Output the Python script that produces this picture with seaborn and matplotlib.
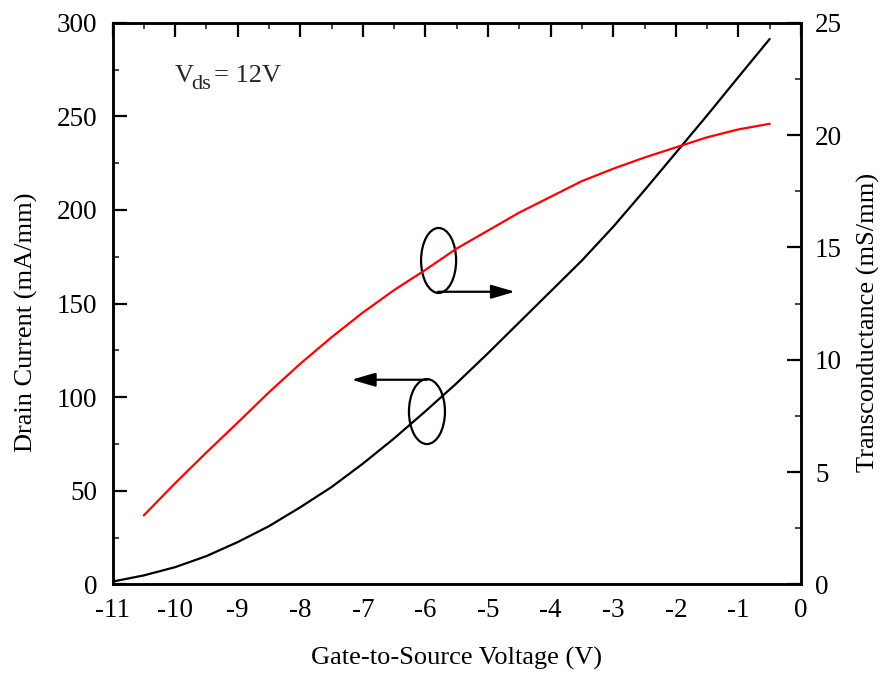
import matplotlib
matplotlib.use("Agg")
import matplotlib.pyplot as plt
import seaborn as sns
import numpy as np
import pandas as pd
from matplotlib.patches import Ellipse
from matplotlib.ticker import MultipleLocator, FixedLocator

# ---- data ----
vgs_id = [-11, -10.5, -10, -9.5, -9, -8.5, -8, -7.5, -7, -6.5, -6, -5.5, -5,
          -4.5, -4, -3.5, -3, -2.5, -2, -1.5, -1, -0.5]
drain_current = [1.5, 4.8, 9.2, 15.1, 22.6, 31.1, 41.2, 52.0, 64.5, 78.0, 92.5,
                 107.5, 123.5, 140.0, 156.5, 173.0, 191.0, 210.5, 230.5, 250.5,
                 271.0, 291.3]

vgs_gm = [-10.5, -10, -9.5, -9, -8.5, -8, -7.5, -7, -6.5, -6, -5.5, -5, -4.5,
          -4, -3.5, -3, -2.5, -2, -1.5, -1, -0.5]
transconductance = [3.07, 4.5, 5.87, 7.2, 8.55, 9.82, 11.0, 12.1, 13.1, 14.0,
                    14.95, 15.75, 16.55, 17.25, 17.95, 18.5, 19.0, 19.45, 19.9,
                    20.25, 20.5]

x_ticks = [-11, -10, -9, -8, -7, -6, -5, -4, -3, -2, -1, 0]
x_labels = ["-11", "-10", "-9", "-8", "-7", "-6", "-5", "-4", "-3", "-2", "-1", "0"]
left_ticks = [0, 50, 100, 150, 200, 250, 300]
right_ticks = [0, 5, 10, 15, 20, 25]

df_id = pd.DataFrame({"Vgs": vgs_id, "Id": drain_current})
df_gm = pd.DataFrame({"Vgs": vgs_gm, "gm": transconductance})

sns.set_theme(style="white")
plt.rcParams["font.family"] = ["Liberation Serif", "DejaVu Serif"]
plt.rcParams["axes.unicode_minus"] = False

FS = 19
TFS = 19.5
fig = plt.figure(figsize=(8.82, 6.75), dpi=100)
ax = fig.add_axes([112.5 / 882, 1 - 584.4 / 675, (801 - 112.5) / 882, (584.4 - 22.7) / 675])
ax2 = ax.twinx()

sns.lineplot(data=df_id, x="Vgs", y="Id", ax=ax, color="black", linewidth=1.6)
sns.lineplot(data=df_gm, x="Vgs", y="gm", ax=ax2, color="#ff0000", linewidth=1.6)

ax.set_xlim(-11, 0)
ax.set_ylim(0, 300)
ax2.set_ylim(0, 25)

ax.xaxis.set_major_locator(FixedLocator(x_ticks))
ax.set_xticklabels(x_labels)
ax.xaxis.set_minor_locator(MultipleLocator(0.5))
ax.yaxis.set_major_locator(FixedLocator(left_ticks))
ax.yaxis.set_minor_locator(MultipleLocator(25))
ax2.yaxis.set_major_locator(FixedLocator(right_ticks))
ax2.yaxis.set_minor_locator(MultipleLocator(2.5))

for a in (ax, ax2):
    for s in a.spines.values():
        s.set_linewidth(1.8)
        s.set_color("black")

ax.tick_params(axis="both", which="major", direction="in", length=10, width=1.6,
               labelsize=TFS, colors="black", top=True, right=False)
ax.tick_params(axis="both", which="minor", direction="in", length=4, width=1.2,
               top=True, right=False)
ax.tick_params(axis="x", which="major", pad=10)
ax.tick_params(axis="y", which="major", pad=11)
ax2.tick_params(axis="y", which="major", direction="in", length=10, width=1.6,
                labelsize=TFS, colors="black", pad=10)
ax2.tick_params(axis="y", which="minor", direction="in", length=4, width=1.2)

ax.set_xlabel("Gate-to-Source Voltage (V)", fontsize=FS, color="black", labelpad=17)
ax.set_ylabel("Drain Current (mA/mm)", fontsize=FS, color="black", labelpad=13.5)
ax2.set_ylabel("Transconductance (mS/mm)", fontsize=FS, color="black", labelpad=11)
ax.yaxis.label.set_y(0.466)
ax2.yaxis.label.set_y(0.466)

# annotation text (V_ds = 12V)
fig.text(175 / 882, 1 - 82 / 675, "V", fontsize=FS, va="baseline", ha="left")
fig.text(191 / 882, 1 - 89 / 675, "ds", fontsize=FS * 0.85, va="baseline", ha="left")
fig.text(214 / 882, 1 - 82 / 675, "= 12V", fontsize=FS, va="baseline", ha="left")

# ellipses and arrows
ax.add_patch(Ellipse((-5.79, 173.0), 0.56, 34.7, fill=False, edgecolor="black", linewidth=1.6))
ax.annotate("", xy=(-4.57, 156.3), xytext=(-5.8, 156.3),
            arrowprops=dict(arrowstyle="-|>,head_length=1.2,head_width=0.35",
                            color="black", lw=1.6, shrinkA=0, shrinkB=0))
ax.add_patch(Ellipse((-5.976, 92.3), 0.575, 34.7, fill=False, edgecolor="black", linewidth=1.6))
ax.annotate("", xy=(-7.18, 109.3), xytext=(-5.976, 109.3),
            arrowprops=dict(arrowstyle="-|>,head_length=1.2,head_width=0.35",
                            color="black", lw=1.6, shrinkA=0, shrinkB=0))

fig.savefig("out.png", dpi=100)
